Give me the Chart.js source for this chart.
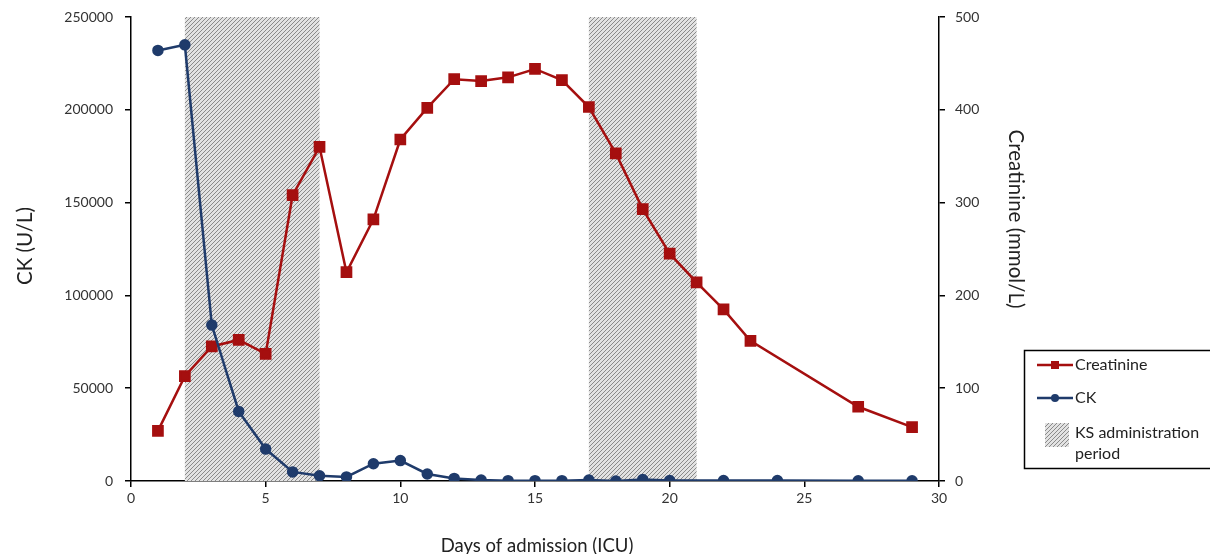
<!DOCTYPE html>
<html>
<head>
<meta charset="utf-8">
<script src="https://cdn.jsdelivr.net/npm/chart.js@4"></script>
<style>
  html, body { margin: 0; padding: 0; background: #fff; }
  #wrap { width: 1210px; height: 554px; position: relative; }
</style>
</head>
<body>
<div id="wrap"><canvas id="c" width="1210" height="554"></canvas></div>
<script>
// ---- Data ----
const ckDays = [1, 2, 3, 4, 5, 6, 7, 8, 9, 10, 11, 12, 13, 14, 15, 16, 17, 18, 19, 20, 22, 24, 27, 29];
const ckValues = [232000, 235000, 84000, 37500, 17200, 4900, 2800, 2200, 9300, 11000, 3800, 1400, 500, 200, 200, 200, 500, 0, 800, 300, 300, 300, 100, 100];
const creatDays = [1, 2, 3, 4, 5, 6, 7, 8, 9, 10, 11, 12, 13, 14, 15, 16, 17, 18, 19, 20, 21, 22, 23, 27, 29];
const creatValues = [54, 113, 145, 152, 137, 308, 360, 225, 282, 368, 402, 433, 431, 435, 444, 432, 403, 353, 293, 245, 214, 185, 151, 80, 58];
const ksPeriods = [[2, 7], [17, 21]];
const ckTicks = [0, 50000, 100000, 150000, 200000, 250000];
const creatTicks = [0, 100, 200, 300, 400, 500];
const dayTicks = [0, 5, 10, 15, 20, 25, 30];
const labels = { creat: 'Creatinine', ck: 'CK', ks: ['KS administration', 'period'] };
const titles = { x: 'Days of admission (ICU)', y: 'CK (U/L)', y1: 'Creatinine (mmol/L)' };

const FONT = 'Lato, "Open Sans", "Liberation Sans", sans-serif';
const RED = '#a50f0f';
const BLUE = '#1f3b6b';
const TXT = '#222';

function makeHatch(ctx) {
  const t = document.createElement('canvas');
  t.width = 4; t.height = 4;
  const g = t.getContext('2d');
  g.fillStyle = '#e2e2e2';
  g.fillRect(0, 0, 4, 4);
  g.strokeStyle = '#8a8a8a';
  g.lineWidth = 1;
  g.beginPath();
  g.moveTo(0, 4); g.lineTo(4, 0);
  g.moveTo(-1, 1); g.lineTo(1, -1);
  g.moveTo(3, 5); g.lineTo(5, 3);
  g.stroke();
  return ctx.createPattern(t, 'repeat');
}

const shadePlugin = {
  id: 'shade',
  beforeDatasetsDraw(chart) {
    const { ctx, scales } = chart;
    const pat = makeHatch(ctx);
    ctx.save();
    ksPeriods.forEach(([a, b]) => {
      const x0 = scales.x.getPixelForValue(a);
      const x1 = scales.x.getPixelForValue(b);
      const yTop = scales.y.getPixelForValue(250000);
      const yBot = scales.y.getPixelForValue(0);
      ctx.fillStyle = pat;
      ctx.fillRect(x0, yTop, x1 - x0, yBot - yTop);
    });
    ctx.restore();
  }
};

const titlePlugin = {
  id: 'titles',
  afterDraw(chart) {
    const ctx = chart.ctx;
    ctx.save();
    ctx.fillStyle = TXT;
    ctx.textAlign = 'center';
    ctx.textBaseline = 'middle';
    ctx.font = '18.5px ' + FONT;
    ctx.fillText(titles.x, 537, 546);
    ctx.font = '20.5px ' + FONT;
    ctx.save();
    ctx.translate(25, 246);
    ctx.rotate(-Math.PI / 2);
    ctx.fillText(titles.y, 0, 0);
    ctx.restore();
    ctx.save();
    ctx.translate(1016, 219);
    ctx.rotate(Math.PI / 2);
    ctx.fillText(titles.y1, 0, 0);
    ctx.restore();
    ctx.restore();
  }
};

const legendPlugin = {
  id: 'customLegend',
  afterDraw(chart) {
    const ctx = chart.ctx;
    ctx.save();
    ctx.strokeStyle = '#000';
    ctx.lineWidth = 1.5;
    ctx.strokeRect(1024.5, 350.5, 200, 118);
    ctx.font = '16px ' + FONT;
    ctx.textBaseline = 'middle';
    // creatinine
    ctx.strokeStyle = RED; ctx.lineWidth = 2.5;
    ctx.beginPath(); ctx.moveTo(1037, 365); ctx.lineTo(1073, 365); ctx.stroke();
    ctx.fillStyle = RED; ctx.fillRect(1051, 361, 8, 8);
    ctx.fillStyle = TXT; ctx.fillText(labels.creat, 1075, 365);
    // CK
    ctx.strokeStyle = BLUE;
    ctx.beginPath(); ctx.moveTo(1037, 398); ctx.lineTo(1073, 398); ctx.stroke();
    ctx.fillStyle = BLUE; ctx.beginPath(); ctx.arc(1055, 398, 4, 0, Math.PI * 2); ctx.fill();
    ctx.fillStyle = TXT; ctx.fillText(labels.ck, 1075, 398);
    // KS
    ctx.fillStyle = makeHatch(ctx);
    ctx.fillRect(1045, 423, 24, 24);
    ctx.fillStyle = TXT;
    ctx.fillText(labels.ks[0], 1075, 433);
    ctx.fillText(labels.ks[1], 1075, 454);
    ctx.restore();
  }
};

const axisBorder = { color: '#000', width: 1.5 };
const tickGrid = { drawOnChartArea: false, drawTicks: true, tickLength: 6, color: '#000', lineWidth: 1.5 };
const tickFont = { family: FONT, size: 14 };

new Chart(document.getElementById('c'), {
  type: 'line',
  data: {
    datasets: [
      {
        label: labels.ck,
        data: ckDays.map((d, i) => ({ x: d, y: ckValues[i] })),
        yAxisID: 'y',
        borderColor: BLUE,
        backgroundColor: BLUE,
        borderWidth: 2.5,
        pointStyle: 'circle',
        pointRadius: 4.5,
        pointHoverRadius: 4.5,
        order: 1
      },
      {
        label: labels.creat,
        data: creatDays.map((d, i) => ({ x: d, y: creatValues[i] })),
        yAxisID: 'y1',
        borderColor: RED,
        backgroundColor: RED,
        borderWidth: 2.5,
        pointStyle: 'rect',
        pointRadius: 6.5,
        pointHoverRadius: 6.5,
        order: 2
      }
    ]
  },
  options: {
    responsive: false,
    animation: false,
    layout: { padding: { left: 0, right: 176, top: 17, bottom: 0 } },
    plugins: { legend: { display: false }, tooltip: { enabled: false } },
    scales: {
      x: {
        type: 'linear', min: 0, max: 30,
        afterBuildTicks: (s) => { s.ticks = dayTicks.map(v => ({ value: v })); },
        afterFit: (s) => { s.height = 73; s.paddingLeft = 0; s.paddingRight = 0; },
        ticks: { font: tickFont, color: '#333', padding: 3 },
        grid: tickGrid,
        border: axisBorder,
        title: { display: false }
      },
      y: {
        position: 'left', min: 0, max: 250000,
        afterBuildTicks: (s) => { s.ticks = ckTicks.map(v => ({ value: v })); },
        afterFit: (s) => { s.width = 131; s.paddingTop = 0; s.paddingBottom = 0; },
        ticks: { font: tickFont, color: '#333', padding: 12, callback: (v) => String(v) },
        grid: tickGrid,
        border: axisBorder,
        title: { display: false }
      },
      y1: {
        position: 'right', min: 0, max: 500,
        afterBuildTicks: (s) => { s.ticks = creatTicks.map(v => ({ value: v })); },
        afterFit: (s) => { s.width = 95; s.paddingTop = 0; s.paddingBottom = 0; },
        ticks: { font: tickFont, color: '#333', padding: 10, callback: (v) => String(v) },
        grid: tickGrid,
        border: axisBorder,
        title: { display: false }
      }
    }
  },
  plugins: [shadePlugin, titlePlugin, legendPlugin]
});
</script>
</body>
</html>
